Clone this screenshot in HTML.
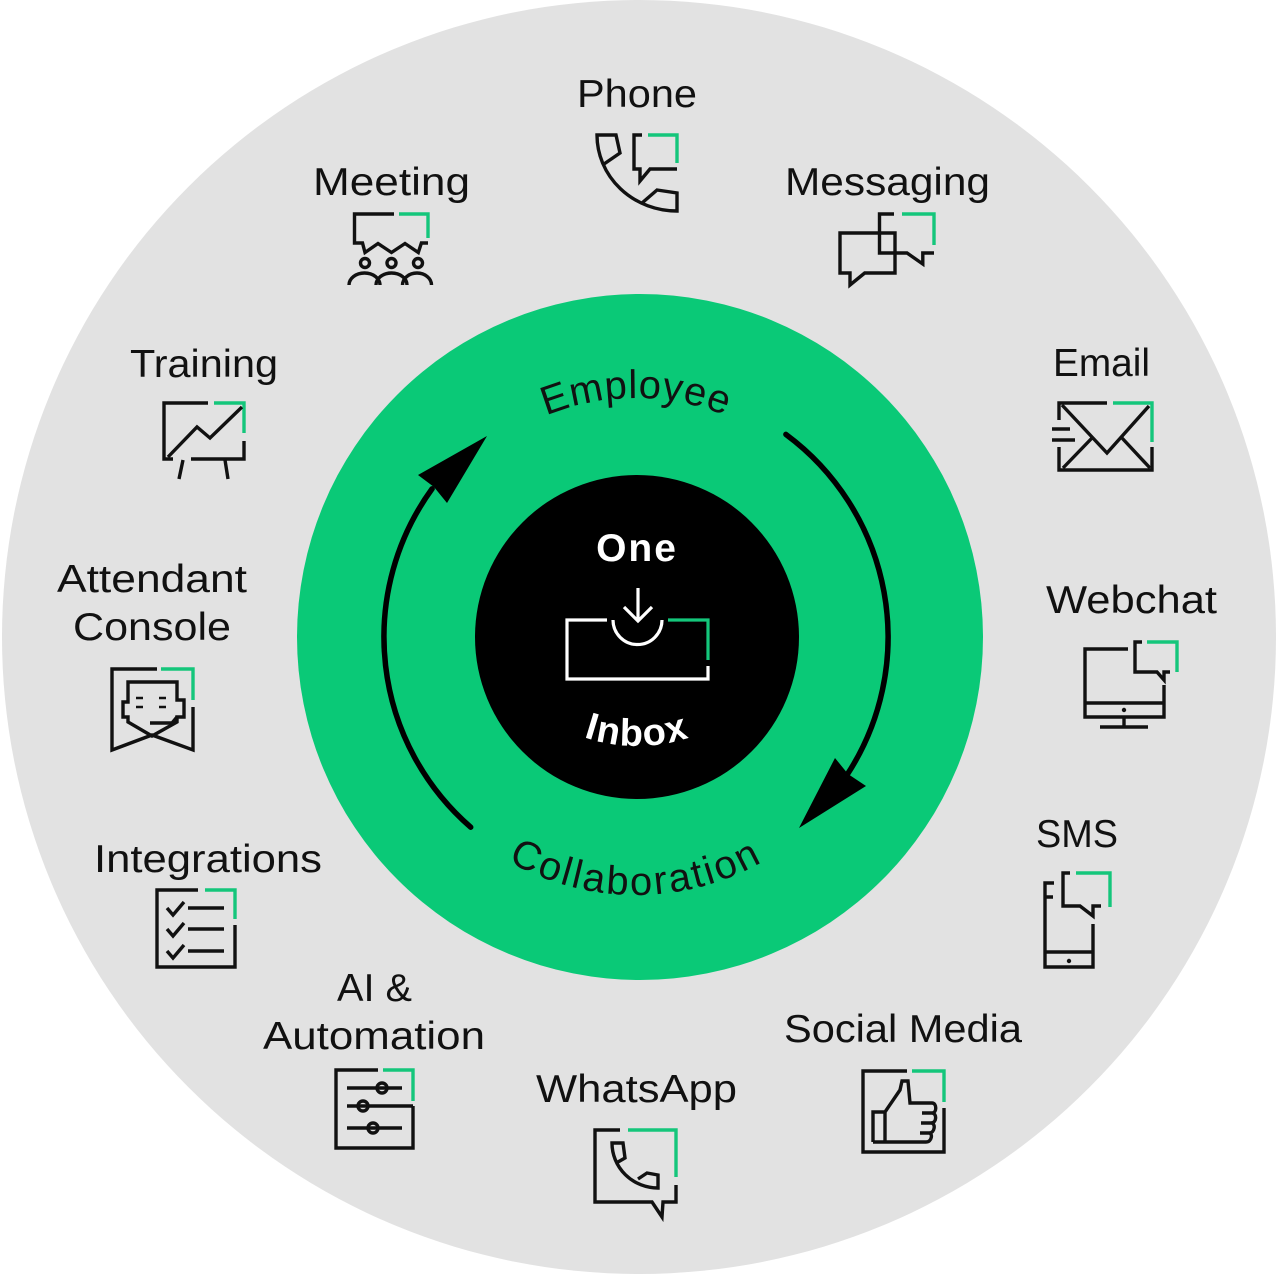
<!DOCTYPE html>
<html>
<head>
<meta charset="utf-8">
<style>
  html,body{margin:0;padding:0;background:#ffffff;}
  body{width:1280px;height:1274px;overflow:hidden;}
  svg{display:block;}
  .lbl{font-family:"Liberation Sans",Arial,sans-serif;font-size:39px;fill:#111;}
  .k{fill:none;stroke:#111;stroke-width:3.4;stroke-linecap:butt;stroke-linejoin:miter;}
  .g{fill:none;stroke:#14c67b;stroke-width:3.4;stroke-linecap:butt;stroke-linejoin:miter;}
  .w{fill:none;stroke:#fff;stroke-width:3.2;stroke-linecap:butt;stroke-linejoin:miter;}
</style>
</head>
<body>
<svg width="1280" height="1274" viewBox="0 0 1280 1274" xmlns="http://www.w3.org/2000/svg">
  <defs>
    <path id="pTop" d="M397,637 A239,239 0 0 1 875,637"/>
    <path id="pBot" d="M378,637 A258,258 0 0 0 894,637"/>
    <path id="pIn" d="M472,581 A165,165 0 0 0 802,581"/>
  </defs>

  <!-- circles -->
  <circle cx="639" cy="637" r="637" fill="#e2e2e2"/>
  <circle cx="640" cy="637" r="343" fill="#0ac977"/>
  <circle cx="637" cy="637" r="162" fill="#000"/>

  <!-- cycle arrows -->
  <path d="M470.7,827.2 A252,252 0 0 1 432.1,488.8" fill="none" stroke="#000" stroke-width="5.5" stroke-linecap="round"/>
  <polygon points="487,436 418,475 434,487 447,503" fill="#000"/>
  <path d="M785.9,434.4 A252,252 0 0 1 847.4,774.3" fill="none" stroke="#000" stroke-width="5.5" stroke-linecap="round"/>
  <polygon points="799,828 835,758 848,774 866,786" fill="#000"/>

  <!-- arc texts -->
  <text font-family="Liberation Sans, Arial, sans-serif" font-size="40" fill="#111" letter-spacing="0.8">
    <textPath href="#pTop" startOffset="50%" text-anchor="middle">Employee</textPath>
  </text>
  <text font-family="Liberation Sans, Arial, sans-serif" font-size="40" fill="#111" letter-spacing="2.5">
    <textPath href="#pBot" startOffset="50%" text-anchor="middle">Collaboration</textPath>
  </text>

  <!-- center -->
  <text x="637" y="561" text-anchor="middle" font-family="Liberation Sans, Arial, sans-serif" font-weight="bold" font-size="39" fill="#fff" letter-spacing="2">One</text>
  <text font-family="Liberation Sans, Arial, sans-serif" font-weight="bold" font-size="38" fill="#fff" letter-spacing="1.5">
    <textPath href="#pIn" startOffset="50%" text-anchor="middle">Inbox</textPath>
  </text>
  <path class="w" d="M607,620 L567,620 L567,679 L708,679 L708,666"/>
  <path class="g" d="M668,620 L708,620 L708,660" style="stroke-width:3.2"/>
  <path class="w" d="M613,620 A24.5,24.5 0 0 0 662,620"/>
  <path class="w" d="M638,588 L638,621 M624,607 L638,621 L652,607"/>

  <!-- labels -->
  <text class="lbl" x="577" y="107" textLength="120" lengthAdjust="spacingAndGlyphs">Phone</text>
  <text class="lbl" x="313" y="195" textLength="157" lengthAdjust="spacingAndGlyphs">Meeting</text>
  <text class="lbl" x="785" y="195" textLength="205" lengthAdjust="spacingAndGlyphs">Messaging</text>
  <text class="lbl" x="130" y="377" textLength="148" lengthAdjust="spacingAndGlyphs">Training</text>
  <text class="lbl" x="1053" y="376" textLength="97" lengthAdjust="spacingAndGlyphs">Email</text>
  <text class="lbl" x="57" y="592" textLength="190" lengthAdjust="spacingAndGlyphs">Attendant</text>
  <text class="lbl" x="73" y="640" textLength="158" lengthAdjust="spacingAndGlyphs">Console</text>
  <text class="lbl" x="1046" y="613" textLength="171" lengthAdjust="spacingAndGlyphs">Webchat</text>
  <text class="lbl" x="94" y="872" textLength="228" lengthAdjust="spacingAndGlyphs">Integrations</text>
  <text class="lbl" x="1036" y="847" textLength="82" lengthAdjust="spacingAndGlyphs">SMS</text>
  <text class="lbl" x="337" y="1001" textLength="75" lengthAdjust="spacingAndGlyphs">AI &amp;</text>
  <text class="lbl" x="263" y="1049" textLength="222" lengthAdjust="spacingAndGlyphs">Automation</text>
  <text class="lbl" x="536" y="1102" textLength="201" lengthAdjust="spacingAndGlyphs">WhatsApp</text>
  <text class="lbl" x="784" y="1042" textLength="238" lengthAdjust="spacingAndGlyphs">Social Media</text>

  <!-- Phone icon -->
  <path class="k" d="M604,164 L620,153 L616,135 L597,135 A80,76 0 0 0 677,211 L677,193 L657,190 L642,203"/>
  <path class="k" d="M642,135 L634,135 L634,169 L640,169 L640,181 L650,169 L677,169"/>
  <path class="g" d="M648,135 L677,135 L677,163"/>

  <!-- Meeting icon -->
  <path class="k" d="M394,214 L354.5,214 L354.5,243 L362.5,243 L365,252.5 L378,243.5 L391.5,252.5 L405,243.5 L418.3,252.5 L421.4,243 L428,243"/>
  <path class="g" d="M399,214 L428,214 L428,238"/>
  <circle class="k" cx="365" cy="263" r="4.5"/>
  <circle class="k" cx="391.5" cy="263" r="4.5"/>
  <circle class="k" cx="418" cy="263" r="4.5"/>
  <path class="k" d="M349,285 A15.5,12 0 0 1 380,285 M376,285 A15.5,12 0 0 1 407,285 M402.5,285 A14.5,12 0 0 1 431.5,285"/>

  <!-- Messaging icon -->
  <path class="k" d="M894,214 L879.5,214 L879.5,253 L907,253 L922.8,264 L922.8,253 L934,253"/>
  <path class="g" d="M902,214 L934,214 L934,245"/>
  <path class="k" d="M840,233 L895,233 L895,273 L864.7,273 L850,285 L850,273 L840,273 Z"/>

  <!-- Training icon -->
  <path class="k" d="M208,403 L164,403 L164,459 L173,459"/>
  <path class="k" d="M191,459 L244,459 L244,441"/>
  <path class="g" d="M214,403 L244,403 L244,433"/>
  <path class="k" d="M183,460 L179,479 M225,460 L228,479"/>
  <path class="k" d="M168,457 L197,427 L210,438 L242,407"/>

  <!-- Attendant Console icon -->
  <path class="k" d="M157,669 L112,669 L112,750 L152,735 L193,750 L193,707"/>
  <path class="g" d="M161,669 L193,669 L193,700"/>
  <path class="k" d="M123,702 L128,702 L128,682 L177,682 L177,700 L184,700 L184,717 L177,717 L177,722 L152,736 L128,722 L128,717 L123,717 Z"/>
  <path class="k" d="M150,723 L172,723 L177,717"/>
  <path class="k" d="M136,698 L143,698 M159,698 L166,698 M136,707 L143,707 M159,707 L166,707" style="stroke-width:2.6"/>

  <!-- Integrations icon -->
  <path class="k" d="M198,890 L157,890 L157,967 L235,967 L235,925"/>
  <path class="g" d="M205,890 L235,890 L235,919"/>
  <path class="k" d="M167,908 L173,915 L184,902 M167,929 L173,936 L184,923 M167,951 L173,958 L184,945"/>
  <path class="k" d="M188,908 L224,908 M188,929 L224,929 M188,951 L224,951"/>

  <!-- AI & Automation icon -->
  <path class="k" d="M378,1070 L336,1070 L336,1148 L413,1148 L413,1106"/>
  <path class="g" d="M383,1070 L413,1070 L413,1101"/>
  <path class="k" d="M347,1088 L402,1088 M347,1106 L413,1106 M347,1128 L402,1128"/>
  <circle class="k" cx="382" cy="1088" r="5" fill="#e2e2e2"/>
  <circle class="k" cx="363" cy="1106" r="5" fill="#e2e2e2"/>
  <circle class="k" cx="373" cy="1128" r="5" fill="#e2e2e2"/>

  <!-- WhatsApp icon -->
  <path class="k" d="M620,1130 L595,1130 L595,1202 L652,1202 L662,1217 L663,1202 L676,1202 L676,1185"/>
  <path class="g" d="M628,1130 L676,1130 L676,1177"/>
  <path class="k" d="M618,1162 L625,1158 L623,1143 L612,1143 A46,45 0 0 0 658,1188 L658,1175 L647,1173 L638,1179"/>

  <!-- Social Media icon -->
  <path class="k" d="M907,1071 L863,1071 L863,1152 L944,1152 L944,1108"/>
  <path class="g" d="M912,1071 L944,1071 L944,1102"/>
  <path class="k" d="M873,1142 L873,1112 L885,1112 L885,1142 M885,1112 L900,1090 L902,1081 L908,1081 L910,1103 L932,1103 C937,1103 937,1113 932,1113 L922,1113 M932,1113 C937,1113 937,1123 931,1123 L921,1123 M931,1123 C936,1123 935,1133 929,1133 L920,1133 M929,1133 C933,1133 932,1142 926,1142 L873,1142"/>

  <!-- SMS icon -->
  <path class="k" d="M1054,883 L1045,883 L1045,967 L1093,967 L1093,924"/>
  <path class="k" d="M1045,897 L1053,897 M1045,952 L1093,952"/>
  <circle cx="1069" cy="961" r="2.2" fill="#111"/>
  <path class="k" d="M1070,873 L1063,873 L1063,906 L1080,906 L1093,916 L1093,906 L1101,906"/>
  <path class="g" d="M1076,873 L1110,873 L1110,907"/>

  <!-- Webchat icon -->
  <path class="k" d="M1128,649 L1085,649 L1085,717 L1164,717 L1164,685"/>
  <path class="k" d="M1085,703 L1164,703 M1124,717 L1124,727 M1100,727 L1148,727"/>
  <circle cx="1124" cy="710" r="2.2" fill="#111"/>
  <path class="k" d="M1142,642 L1135,642 L1135,672 L1157,672 L1164,680 L1164,672 L1170,672"/>
  <path class="g" d="M1147,642 L1177,642 L1177,672"/>

  <!-- Email icon -->
  <path class="k" d="M1107,403 L1059,403 L1059,420 M1059,447 L1059,470 L1152,470 L1152,447"/>
  <path class="g" d="M1113,403 L1152,403 L1152,442"/>
  <path class="k" d="M1052,429 L1070,429 M1052,440 L1075,440"/>
  <path class="k" d="M1062,405 L1107,453 L1149,406"/>
  <path class="k" d="M1063,468 L1092,438 M1150,468 L1122,438"/>
</svg>
</body>
</html>
